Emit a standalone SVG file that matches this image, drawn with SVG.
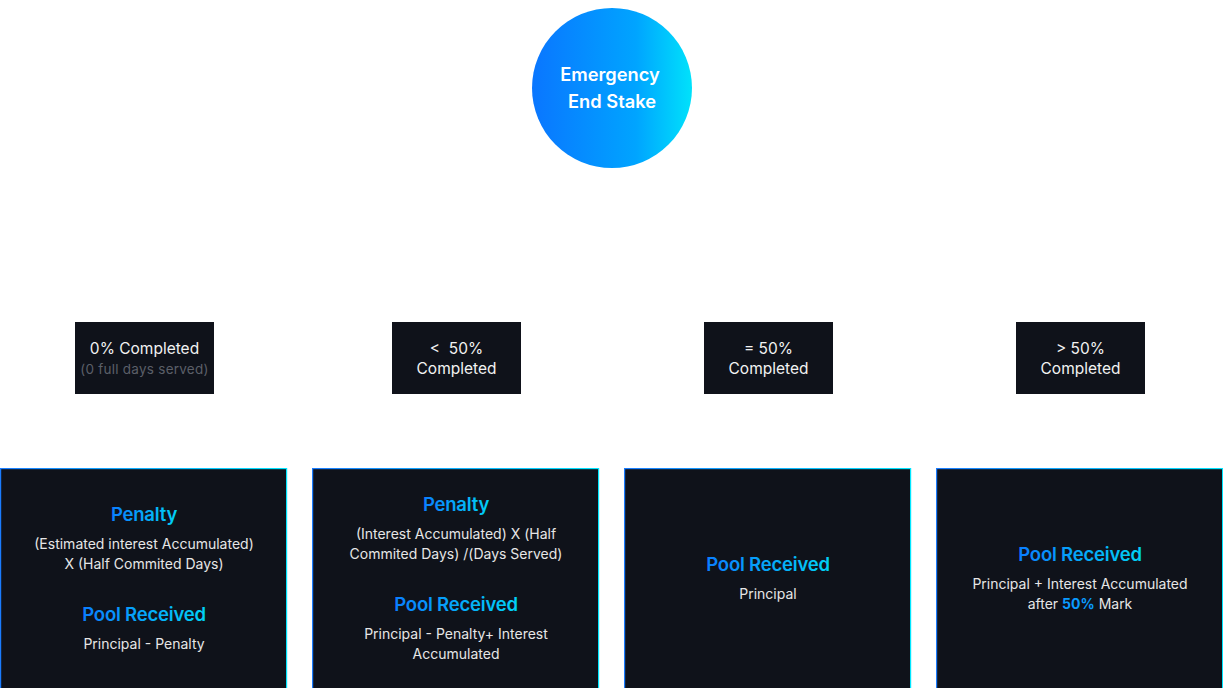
<svg xmlns="http://www.w3.org/2000/svg" width="1223" height="688" viewBox="0 0 1223 688">
<defs>
<linearGradient id="gCircle" x1="0" y1="0" x2="1" y2="0">
<stop offset="0" stop-color="#0a76ff"/>
<stop offset="0.65" stop-color="#00a4ff"/>
<stop offset="1" stop-color="#00e2fb"/>
</linearGradient>
<linearGradient id="gHead" x1="0" y1="0" x2="1" y2="0">
<stop offset="0" stop-color="#0a7dff"/>
<stop offset="1" stop-color="#00d2f5"/>
</linearGradient>
<linearGradient id="gBorder" x1="0" y1="0" x2="1" y2="0">
<stop offset="0" stop-color="#1a7cff"/>
<stop offset="1" stop-color="#00e6ff"/>
</linearGradient>
<style>
.t{font-family:Inter,"Liberation Sans",sans-serif;text-anchor:middle;white-space:pre}
.circ{font-size:18.3px;font-weight:600;fill:#ffffff}
.small{fill:#0f121a}
.lbl{font-size:15.5px;fill:#f2f2f2}
.sub{font-size:13.5px;letter-spacing:0.25px;fill:#5b5f68}
.big{fill:#0f121a;stroke:url(#gBorder);stroke-width:1.2}
.head{font-size:18.5px;font-weight:600;letter-spacing:-0.2px;fill:url(#gHead)}
.body{font-size:14px;fill:#e6e6e6}
.hl{fill:#0a9bff;font-weight:700}
</style>
</defs>
<rect width="1223" height="688" fill="#ffffff"/>
<g id="connectors"></g>
<g id="root">
<circle cx="612" cy="88" r="80" fill="url(#gCircle)"/>
<text class="t circ" x="610" y="81">Emergency</text>
<text class="t circ" x="612" y="108">End Stake</text>
</g>
<g id="cond1">
<rect class="small" x="75" y="322" width="139" height="72"/>
<text class="t lbl" x="144.5" y="354">0% Completed</text>
<text class="t sub" x="144.5" y="374">(0 full days served)</text>
</g>
<g id="cond2">
<rect class="small" x="392" y="322" width="129" height="72"/>
<text class="t lbl" x="456.5" y="354">&lt;  50%</text>
<text class="t lbl" x="456.5" y="374">Completed</text>
</g>
<g id="cond3">
<rect class="small" x="704" y="322" width="129" height="72"/>
<text class="t lbl" x="768.5" y="354">= 50%</text>
<text class="t lbl" x="768.5" y="374">Completed</text>
</g>
<g id="cond4">
<rect class="small" x="1016" y="322" width="129" height="72"/>
<text class="t lbl" x="1080.5" y="354">&gt; 50%</text>
<text class="t lbl" x="1080.5" y="374">Completed</text>
</g>
<g id="result1">
<rect class="big" x="0.6" y="468.6" width="286" height="222"/>
<text class="t head" x="144" y="521">Penalty</text>
<text class="t body" x="144" y="549">(Estimated interest Accumulated)</text>
<text class="t body" x="144" y="569">X (Half Commited Days)</text>
<text class="t head" x="144" y="621">Pool Received</text>
<text class="t body" x="144" y="649">Principal - Penalty</text>
</g>
<g id="result2">
<rect class="big" x="312.6" y="468.6" width="286" height="222"/>
<text class="t head" x="456" y="511">Penalty</text>
<text class="t body" x="456" y="539">(Interest Accumulated) X (Half</text>
<text class="t body" x="456" y="559">Commited Days) /(Days Served)</text>
<text class="t head" x="456" y="611">Pool Received</text>
<text class="t body" x="456" y="639">Principal - Penalty+ Interest</text>
<text class="t body" x="456" y="659">Accumulated</text>
</g>
<g id="result3">
<rect class="big" x="624.6" y="468.6" width="286" height="222"/>
<text class="t head" x="768" y="571">Pool Received</text>
<text class="t body" x="768" y="599">Principal</text>
</g>
<g id="result4">
<rect class="big" x="936.6" y="468.6" width="286" height="222"/>
<text class="t head" x="1080" y="561">Pool Received</text>
<text class="t body" x="1080" y="589">Principal + Interest Accumulated</text>
<text class="t body" x="1080" y="609">after <tspan class="hl">50%</tspan> Mark</text>
</g>
</svg>
